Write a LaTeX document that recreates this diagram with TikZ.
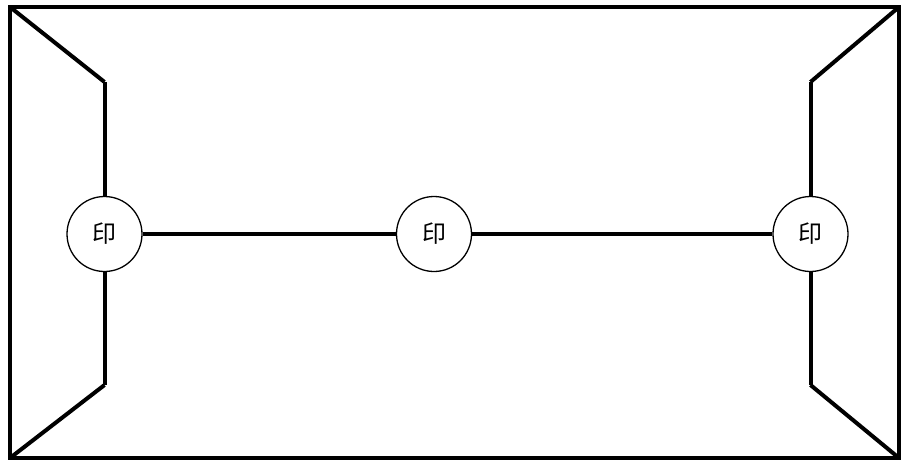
\documentclass[tikz,border=0pt]{standalone}
\usepackage{fontspec}
\newfontfamily\cjk{Noto Sans CJK SC}
\begin{document}
\begin{tikzpicture}[x=1pt,y=-1pt,
  thick line/.style={line width=4pt,line join=miter},
  seal/.style={circle,draw,line width=1.3pt,fill=white,minimum size=75pt,inner sep=0pt,font=\cjk\fontsize{24}{28}\selectfont}]
\useasboundingbox (0,0) rectangle (902,461);
\coordinate (TL) at (10,7);
\coordinate (TR) at (899,7);
\coordinate (BL) at (10,458);
\coordinate (BR) at (899,458);
\coordinate (LT) at (104.5,82);
\coordinate (LB) at (104.5,385);
\coordinate (RT) at (810.5,82);
\coordinate (RB) at (810.5,385);
\draw[thick line] (TL) rectangle (BR);
\draw[thick line] (TL) -- (LT);
\draw[thick line] (BL) -- (LB);
\draw[thick line] (TR) -- (RT);
\draw[thick line] (BR) -- (RB);
\node[seal] (L) at (104.5,234) {印};
\node[seal] (M) at (434,234) {印};
\node[seal] (R) at (810.5,234) {印};
\draw[thick line] (LT) -- (L);
\draw[thick line] (LB) -- (L);
\draw[thick line] (RT) -- (R);
\draw[thick line] (RB) -- (R);
\draw[thick line] (L) -- (M);
\draw[thick line] (M) -- (R);
\end{tikzpicture}
\end{document}
